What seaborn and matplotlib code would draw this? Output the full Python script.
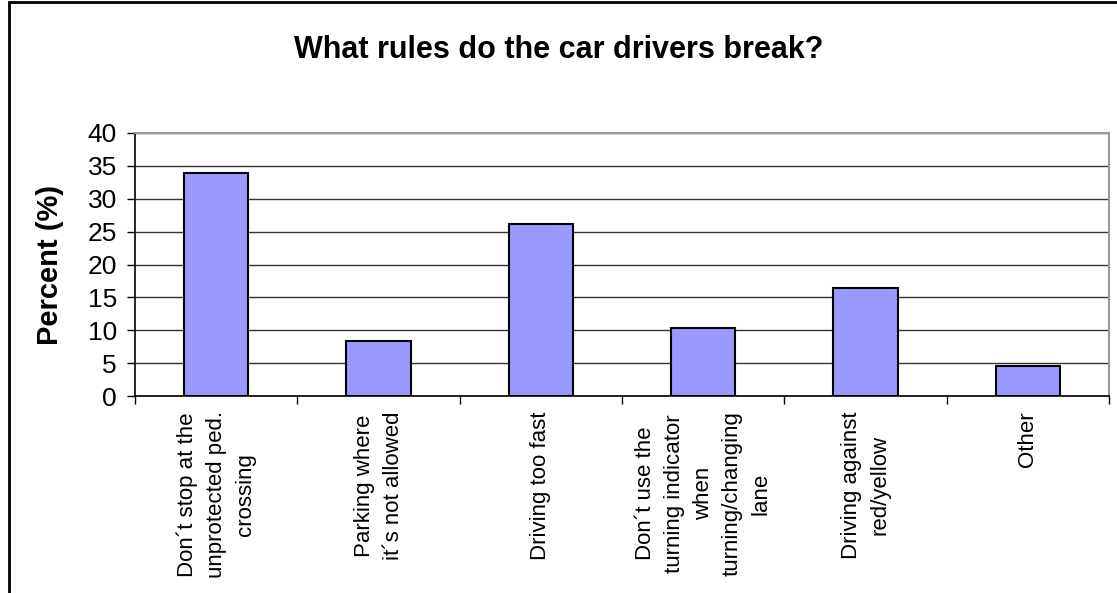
import matplotlib
matplotlib.use("Agg")
import matplotlib.pyplot as plt
import seaborn as sns
import pandas as pd
from matplotlib.lines import Line2D

categories = [
    "Don´t stop at the\nunprotected ped.\ncrossing",
    "Parking where\nit´s not allowed",
    "Driving too fast",
    "Don´t use the\nturning indicator\nwhen\nturning/changing\nlane",
    "Driving against\nred/yellow",
    "Other",
]
values = [33.9, 8.3, 26.1, 10.4, 16.4, 4.6]
y_ticks = [0, 5, 10, 15, 20, 25, 30, 35, 40]

sns.set_theme(style="white")
plt.rcParams["font.family"] = ["Liberation Sans", "DejaVu Sans"]
plt.rcParams["text.color"] = "black"
plt.rcParams["axes.labelcolor"] = "black"
plt.rcParams["xtick.color"] = "black"
plt.rcParams["ytick.color"] = "black"

fig = plt.figure(figsize=(11.17, 5.93), dpi=100)
ax = fig.add_axes([0.1209, 1 - 396 / 593, (1109 - 135) / 1117, (396 - 133) / 593])

df = pd.DataFrame({"cat": categories, "val": values})
sns.barplot(data=df, x="cat", y="val", color="#9999FF", saturation=1,
            edgecolor="black", linewidth=1.5, width=0.395, ax=ax, zorder=3)

ax.set_ylim(0, 40)
ax.set_xlim(-0.5, len(categories) - 0.5)
ax.set_yticks(y_ticks)
ax.set_yticklabels([str(t) for t in y_ticks], fontsize=19)
ax.yaxis.grid(True, color="#333333", linewidth=1, zorder=0)
ax.set_axisbelow(True)

# category labels at centers, ticks at boundaries
ax.set_xticks(range(len(categories)))
ax.set_xticklabels(categories, rotation=90, fontsize=16, ha="center", va="top",
                   multialignment="center", linespacing=1.5)
ax.tick_params(axis="x", length=0, pad=11)
ax.set_xticks([i - 0.5 for i in range(len(categories) + 1)], minor=True)
ax.tick_params(axis="x", which="minor", length=6, width=1, color="black", direction="out", bottom=True)
ax.tick_params(axis="y", length=6, width=1, color="black", direction="out", left=True, pad=7)

ax.set_xlabel("")
ax.set_ylabel("Percent (%)", fontsize=21, fontweight="bold", labelpad=17)

for s in ["left", "bottom"]:
    ax.spines[s].set_color("black")
    ax.spines[s].set_linewidth(1.2)
for s in ["top", "right"]:
    ax.spines[s].set_color("#999999")
    ax.spines[s].set_linewidth(1.5)

fig.text(0.5, 1 - 50 / 593, "What rules do the car drivers break?",
         ha="center", va="center", fontsize=22, fontweight="bold", color="black")

# chart border
fig.add_artist(Line2D([9 / 1117, 9 / 1117], [0, 1 - 1.5 / 593], color="black", lw=2, transform=fig.transFigure))
fig.add_artist(Line2D([9 / 1117, 1], [1 - 1.5 / 593, 1 - 1.5 / 593], color="black", lw=2, transform=fig.transFigure))

fig.savefig("out.png", dpi=100, facecolor="white")
